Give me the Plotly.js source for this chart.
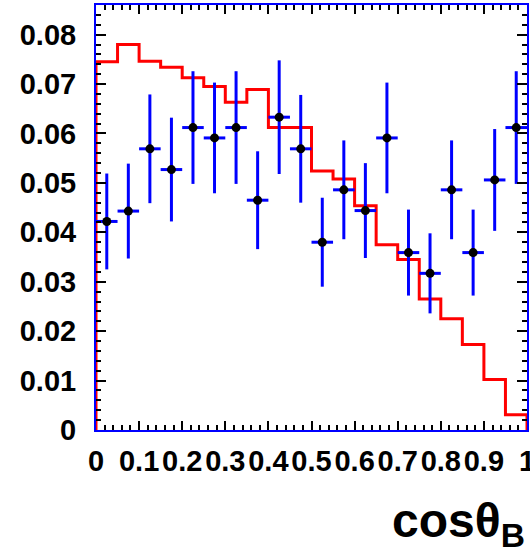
<!DOCTYPE html>
<html>
<head>
<meta charset="utf-8">
<script src="https://cdn.plot.ly/plotly-3.0.1.min.js"></script>
<style>
  html, body { margin: 0; padding: 0; background: #fff; }
  #plot { width: 530px; height: 555px; }
</style>
</head>
<body>
<div id="plot"></div>
<script>
// Bin edges in cos(theta_B), 20 bins of width 0.05
const binEdges = [0, 0.05, 0.10, 0.15, 0.20, 0.25, 0.30, 0.35, 0.40, 0.45, 0.50,
                  0.55, 0.60, 0.65, 0.70, 0.75, 0.80, 0.85, 0.90, 0.95, 1.00];

// Expected (MC) shape, one value per bin
const mcValues = [0.0745, 0.0780, 0.0746, 0.0734, 0.0713, 0.0695, 0.0663, 0.0689, 0.0612, 0.0612,
                  0.0524, 0.0508, 0.0454, 0.0375, 0.0345, 0.0265, 0.0225, 0.0173, 0.0102, 0.0031];

// Measured points and their uncertainties, one per bin
const dataValues = [0.0422, 0.0443, 0.0569, 0.0527, 0.0612, 0.0591, 0.0612, 0.0465, 0.0633, 0.0569,
                    0.0380, 0.0486, 0.0444, 0.0591, 0.0359, 0.0317, 0.0486, 0.0359, 0.0506, 0.0612];
const dataErrors = [0.0097, 0.0096, 0.0110, 0.0105, 0.0114, 0.0112, 0.0114, 0.0099, 0.0115, 0.0109,
                    0.0090, 0.0100, 0.0096, 0.0112, 0.0087, 0.0081, 0.0100, 0.0087, 0.0103, 0.0114];

// Axis tick labels
const xTickVals = [0, 0.1, 0.2, 0.3, 0.4, 0.5, 0.6, 0.7, 0.8, 0.9, 1];
const xTickText = ['0', '0.1', '0.2', '0.3', '0.4', '0.5', '0.6', '0.7', '0.8', '0.9', '1'];
const yTickVals = [0, 0.01, 0.02, 0.03, 0.04, 0.05, 0.06, 0.07, 0.08];
const yTickText = ['0', '0.01', '0.02', '0.03', '0.04', '0.05', '0.06', '0.07', '0.08'];

const nBins = mcValues.length;
const binCenters = [];
const binHalfWidths = [];
for (let i = 0; i < nBins; i++) {
  binCenters.push((binEdges[i] + binEdges[i + 1]) / 2);
  binHalfWidths.push((binEdges[i + 1] - binEdges[i]) / 2);
}

// Closed step outline of the histogram (starts and ends on zero)
const histX = [binEdges[0]].concat(binEdges.slice(0, nBins), [binEdges[nBins], binEdges[nBins]]);
const histY = [0].concat(mcValues, [mcValues[nBins - 1], 0]);

const labelFont = { family: 'Liberation Sans, Arial, sans-serif', size: 29, color: '#000', weight: 'bold' };

const traces = [
  {
    type: 'scatter', mode: 'lines',
    x: histX, y: histY,
    line: { color: '#ff0000', width: 3, shape: 'hv' },
    hoverinfo: 'skip', showlegend: false
  },
  {
    type: 'scatter', mode: 'markers',
    x: binCenters, y: dataValues,
    marker: { color: '#000', size: 9, symbol: 'circle' },
    error_y: { type: 'data', array: dataErrors, visible: true, color: '#0000ff', thickness: 3, width: 0 },
    error_x: { type: 'data', array: binHalfWidths, visible: true, color: '#0000ff', thickness: 3, width: 0 },
    showlegend: false
  }
];

const layout = {
  width: 530, height: 555,
  margin: { l: 96, r: 3, t: 5, b: 125, pad: 0 },
  paper_bgcolor: '#fff', plot_bgcolor: '#fff',
  showlegend: false,
  xaxis: {
    range: [0, 1], tickmode: 'array', tickvals: xTickVals, ticktext: xTickText, tickangle: 0,
    ticks: 'inside', ticklen: 9, tickwidth: 2, tickcolor: '#000',
    minor: { dtick: 0.02, tick0: 0, ticks: 'inside', ticklen: 5, tickwidth: 2, tickcolor: '#000' },
    showline: true, linecolor: '#0000ff', linewidth: 2, mirror: 'allticks',
    showgrid: false, zeroline: false,
    tickfont: labelFont, ticklabelstandoff: 4, ticklabeloverflow: 'allow'
  },
  yaxis: {
    range: [0, 0.086], tickmode: 'array', tickvals: yTickVals, ticktext: yTickText,
    ticks: 'inside', ticklen: 10, tickwidth: 2, tickcolor: '#000',
    minor: { dtick: 0.002, tick0: 0, ticks: 'inside', ticklen: 5, tickwidth: 2, tickcolor: '#000' },
    showline: true, linecolor: '#0000ff', linewidth: 2, mirror: 'allticks',
    showgrid: false, zeroline: false,
    tickfont: labelFont, ticklabelstandoff: 12, ticklabeloverflow: 'allow'
  },
  annotations: [
    {
      xref: 'paper', yref: 'paper', x: 1.0, y: -0.222,
      xanchor: 'right', yanchor: 'middle', showarrow: false,
      text: 'cosθ<sub>B</sub>',
      font: { family: 'Liberation Sans, Arial, sans-serif', size: 48, color: '#000', weight: 'bold' }
    }
  ]
};

Plotly.newPlot('plot', traces, layout, { displayModeBar: false, staticPlot: true });
</script>
</body>
</html>
